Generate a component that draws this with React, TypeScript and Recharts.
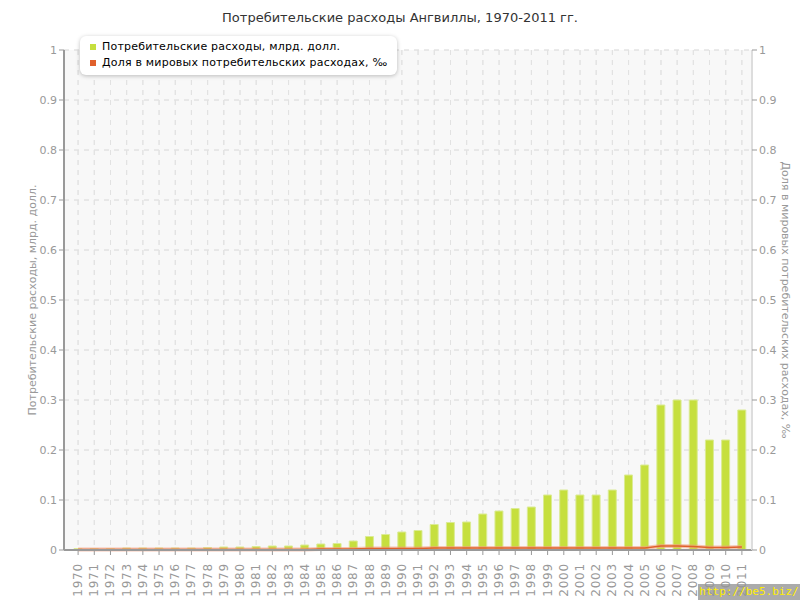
import React from 'react';
import {
  ComposedChart,
  Bar,
  Line,
  XAxis,
  YAxis,
  CartesianGrid,
} from 'recharts';

// ============================================================================
// Data
// ============================================================================

const years = [
  '1970', '1971', '1972', '1973', '1974', '1975', '1976', '1977', '1978', '1979',
  '1980', '1981', '1982', '1983', '1984', '1985', '1986', '1987', '1988', '1989',
  '1990', '1991', '1992', '1993', '1994', '1995', '1996', '1997', '1998', '1999',
  '2000', '2001', '2002', '2003', '2004', '2005', '2006', '2007', '2008', '2009',
  '2010', '2011',
];

// Потребительские расходы, млрд. долл.
const spending = [
  0.003, 0.003, 0.003, 0.004, 0.004, 0.004, 0.004, 0.004, 0.005, 0.006,
  0.006, 0.007, 0.008, 0.008, 0.010, 0.012, 0.013, 0.018, 0.027, 0.031,
  0.036, 0.039, 0.051, 0.055, 0.056, 0.072, 0.078, 0.083, 0.086, 0.11,
  0.12, 0.11, 0.11, 0.12, 0.15, 0.17, 0.29, 0.30, 0.30, 0.22,
  0.22, 0.28,
];

// Доля в мировых потребительских расходах, ‰
const worldShare = [
  0.001, 0.001, 0.001, 0.001, 0.001, 0.001, 0.001, 0.001, 0.001, 0.001,
  0.001, 0.001, 0.001, 0.001, 0.001, 0.002, 0.002, 0.002, 0.003, 0.003,
  0.003, 0.003, 0.004, 0.004, 0.004, 0.004, 0.004, 0.004, 0.004, 0.004,
  0.004, 0.004, 0.004, 0.004, 0.004, 0.004, 0.008, 0.008, 0.007, 0.005,
  0.005, 0.006,
];

const yTicks = [0, 0.1, 0.2, 0.3, 0.4, 0.5, 0.6, 0.7, 0.8, 0.9, 1];

const TITLE = 'Потребительские расходы Ангвиллы, 1970-2011 гг.';
const LEFT_LABEL = 'Потребительские расходы, млрд. долл.';
const RIGHT_LABEL = 'Доля в мировых потребительских расходах, ‰';

const BAR_COLOR = '#c6df3e';
const LINE_COLOR = '#e0602c';
const FONT = '"DejaVu Sans", Verdana, sans-serif';

// ============================================================================
// Component
// ============================================================================

const YearTick = (props: any) => {
  const { x, y, payload } = props;
  return (
    <text
      x={x}
      y={y + 6}
      transform={`rotate(-90, ${x}, ${y + 6})`}
      textAnchor="end"
      dominantBaseline="central"
      fontSize={12}
      letterSpacing={0.8}
      fill="#999"
      fontFamily={FONT}
    >
      {payload.value}
    </text>
  );
};

const LegendBox = () => (
  <div
    style={{
      position: 'absolute',
      left: 80,
      top: 36,
      background: '#fff',
      borderRadius: 6,
      boxShadow: '0 1px 4px rgba(0,0,0,0.25)',
      padding: '3px 10px 4px 10px',
      fontFamily: FONT,
      fontSize: 11,
      color: '#000',
      lineHeight: '16px',
      letterSpacing: 0.2,
    }}
  >
    {[
      { name: LEFT_LABEL, color: BAR_COLOR },
      { name: RIGHT_LABEL, color: LINE_COLOR },
    ].map((item) => (
      <div key={item.name} style={{ display: 'flex', alignItems: 'center' }}>
        <span
          style={{
            display: 'inline-block',
            width: 6,
            height: 6,
            background: item.color,
            marginRight: 6,
          }}
        />
        {item.name}
      </div>
    ))}
  </div>
);

export default function App() {
  const data = years.map((year, i) => ({
    year,
    spending: spending[i],
    share: worldShare[i],
  }));

  return (
    <div style={{ position: 'absolute', left: 0, top: 0, width: 800, height: 600, background: '#fff' }}>
      <div
        style={{
          position: 'absolute',
          top: 10,
          width: 800,
          textAlign: 'center',
          fontFamily: FONT,
          fontSize: 13,
          color: '#333',
        }}
      >
        {TITLE}
      </div>
      <ComposedChart
        width={800}
        height={600}
        data={data}
        margin={{ top: 50, right: 0, left: 0, bottom: 0 }}
      >
        <CartesianGrid
          yAxisId="left"
          strokeDasharray="5 5"
          stroke="#e2e2e2"
          fill="#f8f8f8"
        />
        <XAxis
          dataKey="year"
          interval={0}
          height={50}
          padding={{ left: 6, right: 2 }}
          tick={<YearTick />}
          tickLine={{ stroke: '#999' }}
          tickSize={5}
          axisLine={{ stroke: '#999', strokeWidth: 2 }}
        />
        <YAxis
          yAxisId="left"
          width={64}
          domain={[0, 1]}
          ticks={yTicks}
          tick={{ fontSize: 11, fill: '#999', fontFamily: FONT }}
          tickLine={{ stroke: '#999' }}
          tickSize={5}
          axisLine={{ stroke: '#999', strokeWidth: 2 }}
          label={{
            value: LEFT_LABEL,
            angle: -90,
            position: 'center',
            style: { fill: '#999', fontSize: 11, fontFamily: FONT, textAnchor: 'middle' },
          }}
        />
        <YAxis
          yAxisId="right"
          orientation="right"
          width={48}
          domain={[0, 1]}
          ticks={yTicks}
          tick={{ fontSize: 11, fill: '#999', fontFamily: FONT }}
          tickLine={{ stroke: '#999' }}
          tickSize={5}
          axisLine={{ stroke: '#ddd', strokeWidth: 2 }}
          label={{
            value: RIGHT_LABEL,
            angle: 90,
            position: 'center',
            dx: 10,
            style: { fill: '#999', fontSize: 11, fontFamily: FONT, textAnchor: 'middle' },
          }}
        />
        <Bar
          yAxisId="left"
          dataKey="spending"
          name={LEFT_LABEL}
          fill={BAR_COLOR}
          stroke="#dbeb94"
          strokeWidth={1}
          barSize={8}
          isAnimationActive={false}
        />
        <CartesianGrid
          yAxisId="left"
          strokeDasharray="5 5"
          stroke="#e2e2e2"
          fill="none"
        />
        <Line
          yAxisId="right"
          dataKey="share"
          stroke="#f2a282"
          strokeOpacity={0.6}
          strokeWidth={4}
          dot={false}
          isAnimationActive={false}
        />
        <Line
          yAxisId="right"
          dataKey="share"
          name={RIGHT_LABEL}
          stroke={LINE_COLOR}
          strokeWidth={1.5}
          dot={false}
          isAnimationActive={false}
        />
      </ComposedChart>
      <LegendBox />
      <div
        style={{
          position: 'absolute',
          right: 0,
          bottom: 0,
          width: 102,
          height: 16,
          background: 'rgba(150,150,150,0.8)',
          color: '#ffee00',
          fontFamily: '"DejaVu Sans Mono", monospace',
          fontSize: 11,
          lineHeight: '16px',
          textAlign: 'center',
          whiteSpace: 'nowrap',
        }}
      >
        http://be5.biz/
      </div>
    </div>
  );
}
